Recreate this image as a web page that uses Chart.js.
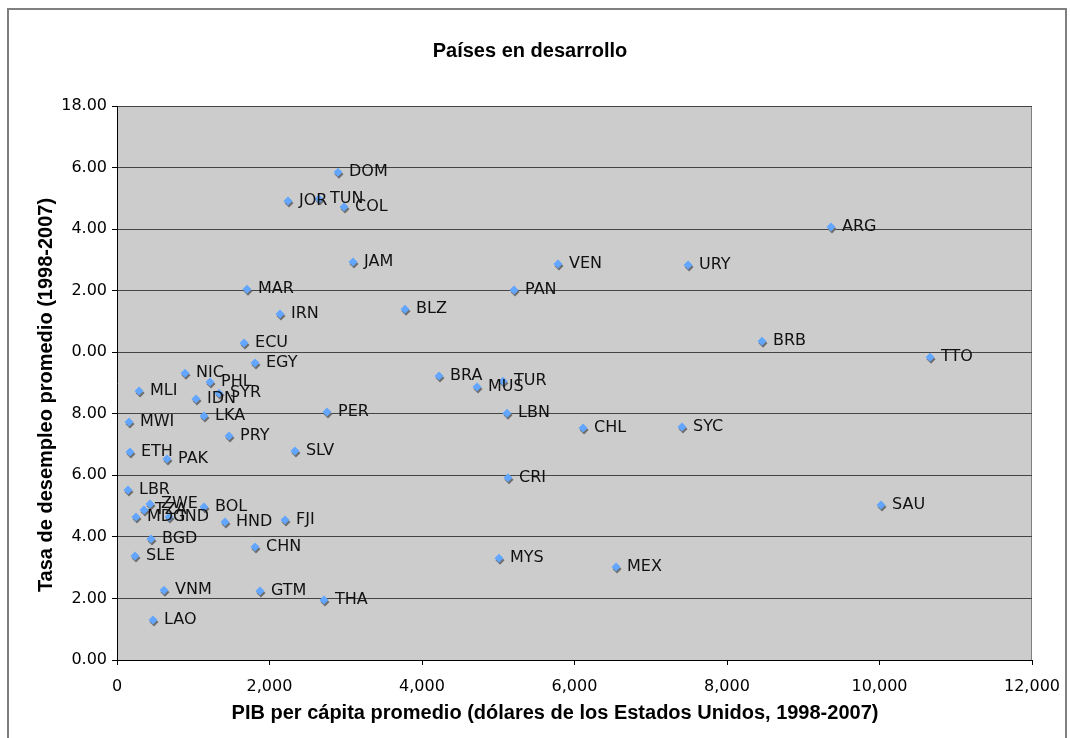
<!DOCTYPE html>
<html>
<head>
<meta charset="utf-8">
<title>Países en desarrollo</title>
<script src="https://cdn.jsdelivr.net/npm/chart.js@4.4.0/dist/chart.umd.min.js"></script>
<style>
  html, body { margin: 0; padding: 0; background: #fff; }
  #wrap { width: 1070px; height: 738px; }
</style>
</head>
<body>
<div id="wrap"><canvas id="scatterChart" width="1070" height="738"></canvas></div>
<script>
// country codes, GDP per capita (x) and unemployment rate (y)
var codes = ['DOM','JOR','TUN','COL','JAM','MAR','IRN','BLZ','ECU','EGY',
             'NIC','PHL','SYR','MLI','IDN','MWI','LKA','PER','PRY','ETH',
             'PAK','SLV','LBR','ZWE','TZA','MDG','IND','BOL','HND','FJI',
             'BGD','CHN','SLE','VNM','GTM','THA','LAO','VEN','URY','PAN',
             'BRA','MUS','TUR','LBN','CHL','SYC','ARG','BRB','TTO','CRI',
             'SAU','MYS','MEX'];
var gdp = [2898, 2243, 2649, 2977, 3095, 1705, 2138, 3777, 1666, 1810,
           892, 1220, 1338, 289, 1036, 157, 1141, 2754, 1469, 170,
           656, 2334, 144, 433, 354, 249, 682, 1141, 1416, 2203,
           446, 1810, 236, 616, 1875, 2715, 472, 5784, 7489, 5207,
           4223, 4721, 5062, 5115, 6112, 7410, 9364, 8459, 10663, 5128,
           10020, 5010, 6545];
var unemp = [15.85, 14.91, 14.98, 14.72, 12.93, 12.05, 11.24, 11.40, 10.30, 9.65,
             9.32, 9.03, 8.67, 8.74, 8.48, 7.73, 7.93, 8.06, 7.28, 6.76,
             6.53, 6.79, 5.52, 5.07, 4.87, 4.65, 4.65, 4.97, 4.48, 4.55,
             3.93, 3.67, 3.38, 2.27, 2.24, 1.95, 1.30, 12.87, 12.83, 12.02,
             9.23, 8.87, 9.06, 8.02, 7.54, 7.57, 14.07, 10.36, 9.84, 5.92,
             5.04, 3.31, 3.02];

// tick labels exactly as printed (the two-digit ones lost their first digit)
var yTickLabels = ['0.00','2.00','4.00','6.00','8.00','0.00','2.00','4.00','6.00','18.00'];
var xTickLabels = ['0','2,000','4,000','6,000','8,000','10,000','12,000'];

var chartTitle = 'Países en desarrollo';
var xTitle = 'PIB per cápita promedio (dólares de los Estados Unidos, 1998-2007)';
var yTitle = 'Tasa de desempleo promedio (1998-2007)';

var points = [];
for (var i = 0; i < codes.length; i++) {
  points.push({ x: gdp[i], y: unemp[i] });
}

var tickFont = { family: 'DejaVu Sans', size: 16 };

// gray plot area with its frame, drawn under everything
var plotBack = {
  id: 'plotBack',
  beforeDraw: function(chart) {
    var ctx = chart.ctx, a = chart.chartArea;
    ctx.save();
    ctx.fillStyle = '#ffffff';
    ctx.fillRect(0, 0, chart.width, chart.height);
    ctx.fillStyle = '#cccccc';
    ctx.fillRect(a.left, a.top, a.right - a.left, a.bottom - a.top);
    ctx.strokeStyle = '#808080';
    ctx.lineWidth = 1;
    ctx.strokeRect(a.left + 0.5, a.top + 0.5, a.right - a.left - 1, a.bottom - a.top);
    ctx.restore();
  }
};

// drop shadow under the markers, then the country codes on top
var markerLabels = {
  id: 'markerLabels',
  beforeDatasetsDraw: function(chart) {
    var ctx = chart.ctx;
    ctx.save();
    ctx.shadowColor = 'rgba(110,110,110,1)';
    ctx.shadowOffsetX = 1;
    ctx.shadowOffsetY = 2;
    ctx.shadowBlur = 0;
  },
  afterDatasetsDraw: function(chart) {
    var ctx = chart.ctx;
    ctx.restore();
    var meta = chart.getDatasetMeta(0);
    ctx.save();
    ctx.font = '16px "DejaVu Sans"';
    ctx.fillStyle = '#111111';
    ctx.textAlign = 'left';
    ctx.textBaseline = 'middle';
    meta.data.forEach(function(pt, idx) {
      ctx.fillText(codes[idx], pt.x + 11, pt.y);
    });
    ctx.restore();
  }
};

// title, axis titles and the outer chart border
var textsAndFrame = {
  id: 'textsAndFrame',
  afterDraw: function(chart) {
    var ctx = chart.ctx;
    ctx.save();
    ctx.fillStyle = '#000000';
    ctx.font = 'bold 20px "Liberation Sans", Arial, sans-serif';
    ctx.textAlign = 'center';
    ctx.textBaseline = 'alphabetic';
    ctx.fillText(chartTitle, 530, 57);
    ctx.fillText(xTitle, 555, 719);
    ctx.translate(52, 395);
    ctx.rotate(-Math.PI / 2);
    ctx.fillText(yTitle, 0, 0);
    ctx.restore();

    ctx.save();
    ctx.strokeStyle = '#7f7f7f';
    ctx.lineWidth = 2;
    ctx.strokeRect(8, 9, 1058, 740);
    ctx.restore();
  }
};

new Chart(document.getElementById('scatterChart'), {
  type: 'scatter',
  data: {
    datasets: [{
      label: 'Países',
      data: points,
      pointStyle: 'rectRot',
      pointRadius: 4.5,
      pointBackgroundColor: '#62a6ff',
      pointBorderWidth: 0,
      pointBorderColor: '#62a6ff'
    }]
  },
  options: {
    responsive: false,
    devicePixelRatio: 1,
    animation: false,
    events: [],
    layout: { padding: { left: 0, top: 106, right: 38, bottom: 0 } },
    plugins: {
      legend: { display: false },
      title: { display: false },
      tooltip: { enabled: false }
    },
    scales: {
      x: {
        type: 'linear',
        min: 0,
        max: 12000,
        ticks: {
          stepSize: 2000,
          font: tickFont,
          color: '#000',
          padding: 12,
          maxRotation: 0,
          callback: function(value, index) { return xTickLabels[index]; }
        },
        grid: { drawOnChartArea: false, drawTicks: true, tickLength: 5, tickColor: '#000' },
        border: { color: '#000', width: 1 },
        afterFit: function(scale) {
          scale.height = 78;
          // keep the plot edge fixed, the layout padding already leaves room
          scale.paddingLeft = 0;
          scale.paddingRight = 0;
        }
      },
      y: {
        type: 'linear',
        min: 0,
        max: 18,
        ticks: {
          stepSize: 2,
          font: tickFont,
          color: '#000',
          padding: 5,
          callback: function(value, index) { return yTickLabels[index]; }
        },
        grid: { color: '#444444', lineWidth: 1, drawTicks: true, tickLength: 5, tickColor: '#000' },
        border: { color: '#000', width: 1 },
        afterFit: function(scale) { scale.width = 117; }
      }
    }
  },
  plugins: [plotBack, markerLabels, textsAndFrame]
});
</script>
</body>
</html>
